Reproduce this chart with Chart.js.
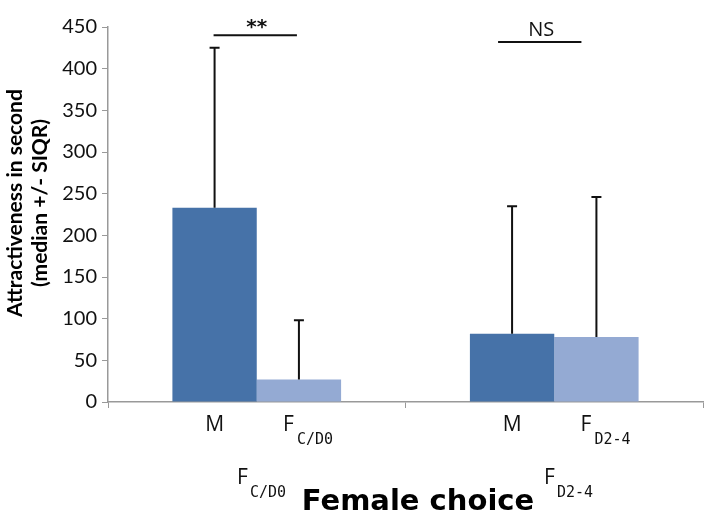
<!DOCTYPE html>
<html>
<head>
<meta charset="utf-8">
<script src="https://cdn.jsdelivr.net/npm/chart.js@4"></script>
<style>
  html, body { margin: 0; padding: 0; background: #fff; }
  #wrap { width: 708px; height: 516px; position: relative; }
</style>
</head>
<body>
<div id="wrap"><canvas id="chart"></canvas></div>
<script>
// Werte
const groups = ["F C/D0", "F D2-4"];
const groupSubs = ["C/D0", "D2-4"];
const maleMedian = [233, 82];
const femaleMedian = [27, 78];
const maleUpper = [425, 235];     // Median + SIQR
const femaleUpper = [98, 246];
const yTicks = [0, 50, 100, 150, 200, 250, 300, 350, 400, 450];
const yTitle = ['Attractiveness in second', '(median +/- SIQR)'];
const sigLabels = ["**", "NS"];
const sigLevels = [440, 432];

const darkBlue = '#4672a8';
const lightBlue = '#94aad3';

// Fehlerbalken (nur nach oben)
const errorBars = {
    id: 'errorBars',
    afterDatasetsDraw(chart) {
        const ctx = chart.ctx;
        const y = chart.scales.y;
        const uppers = [maleUpper, femaleUpper];
        ctx.save();
        ctx.strokeStyle = '#111';
        ctx.lineWidth = 2;
        chart.data.datasets.forEach((ds, di) => {
            chart.getDatasetMeta(di).data.forEach((bar, i) => {
                const top = y.getPixelForValue(uppers[di][i]);
                ctx.beginPath();
                ctx.moveTo(bar.x, bar.y);
                ctx.lineTo(bar.x, top);
                ctx.moveTo(bar.x - 5, top);
                ctx.lineTo(bar.x + 5, top);
                ctx.stroke();
            });
        });
        ctx.restore();
    }
};

// Signifikanz-Linien, Achsentitel und Beschriftungen unten
const annotations = {
    id: 'annotations',
    afterDraw(chart) {
        const ctx = chart.ctx;
        const y = chart.scales.y;
        const area = chart.chartArea;
        const male = chart.getDatasetMeta(0).data;
        const female = chart.getDatasetMeta(1).data;
        ctx.save();

        // Signifikanz (NS-Linie ist im Original etwas nach links versetzt)
        const shift = [0, -13];
        sigLabels.forEach((lab, i) => {
            const x1 = male[i].x + shift[i];
            const x2 = female[i].x + shift[i];
            const yy = y.getPixelForValue(sigLevels[i]);
            ctx.strokeStyle = '#111';
            ctx.lineWidth = 2;
            ctx.beginPath();
            ctx.moveTo(x1 - 1, yy);
            ctx.lineTo(x2 - 2, yy);
            ctx.stroke();
            ctx.fillStyle = '#111';
            ctx.textAlign = 'center';
            ctx.textBaseline = 'alphabetic';
            ctx.font = lab === '**' ? 'bold 20px "DejaVu Sans", sans-serif' : '20px "Open Sans", sans-serif';
            ctx.fillText(lab, (x1 + x2) / 2, yy - (lab === '**' ? 2 : 6));
        });

        // Y-Achsentitel, zwei Zeilen
        ctx.save();
        ctx.translate(0, 203);
        ctx.rotate(-Math.PI / 2);
        ctx.fillStyle = '#000';
        ctx.textAlign = 'center';
        ctx.textBaseline = 'middle';
        ctx.font = 'bold 21px Lato, "Open Sans", sans-serif';
        ctx.fillText(yTitle[0], 0, 15);
        ctx.fillText(yTitle[1], 0, 40);
        ctx.restore();

        // Balkenbeschriftung M / F mit Index
        const baseY = area.bottom + 29;
        groupSubs.forEach((sub, i) => {
            ctx.fillStyle = '#111';
            ctx.textBaseline = 'alphabetic';
            ctx.textAlign = 'center';
            ctx.font = '21px "Open Sans", sans-serif';
            ctx.fillText('M', male[i].x, baseY);

            ctx.textAlign = 'left';
            const fx = female[i].x - 16;
            ctx.fillText('F', fx, baseY);
            ctx.font = '15px "DejaVu Sans Mono", monospace';
            ctx.fillText(sub, fx + 14, baseY + 13);
        });

        // Gruppen-Beschriftung und Achsentitel
        const gY = area.bottom + 82;
        const gx = [237, 544];
        groupSubs.forEach((sub, i) => {
            ctx.textAlign = 'left';
            ctx.fillStyle = '#111';
            ctx.font = '21px "Open Sans", sans-serif';
            ctx.fillText('F', gx[i], gY);
            ctx.font = '15px "DejaVu Sans Mono", monospace';
            ctx.fillText(sub, gx[i] + 13, gY + 13);
        });
        ctx.textAlign = 'center';
        ctx.fillStyle = '#000';
        ctx.font = '900 29px "DejaVu Sans", sans-serif';
        ctx.fillText('Female choice', 418, area.bottom + 108);

        ctx.restore();
    }
};

const ctx = document.getElementById('chart').getContext('2d');
new Chart(ctx, {
    type: 'bar',
    data: {
        labels: groups,
        datasets: [
            { label: 'M', data: maleMedian, backgroundColor: darkBlue, borderWidth: 0,
              categoryPercentage: 0.567, barPercentage: 1 },
            { label: 'F', data: femaleMedian, backgroundColor: lightBlue, borderWidth: 0,
              categoryPercentage: 0.567, barPercentage: 1 }
        ]
    },
    options: {
        responsive: true,
        maintainAspectRatio: false,
        animation: false,
        events: [],
        layout: { padding: { top: 27, right: 5, left: 0, bottom: 0 } },
        plugins: {
            legend: { display: false },
            tooltip: { enabled: false }
        },
        scales: {
            x: {
                offset: true,
                grid: {
                    offset: true,
                    drawOnChartArea: false,
                    drawTicks: true,
                    tickLength: 6,
                    color: '#999'
                },
                border: { color: '#999', width: 1.5 },
                ticks: { display: false },
                afterFit: (s) => { s.height = 114; }
            },
            y: {
                min: 0,
                max: 450,
                afterBuildTicks: (s) => { s.ticks = yTicks.map(v => ({ value: v })); },
                grid: {
                    drawOnChartArea: false,
                    drawTicks: true,
                    tickLength: 6,
                    color: '#999'
                },
                border: { color: '#999', width: 1.5 },
                ticks: {
                    color: '#111',
                    padding: 5,
                    font: { family: 'Lato, "Open Sans", sans-serif', size: 20 }
                },
                title: { display: false },
                afterFit: (s) => { s.width = 108; }
            }
        }
    },
    plugins: [errorBars, annotations]
});
</script>
</body>
</html>
